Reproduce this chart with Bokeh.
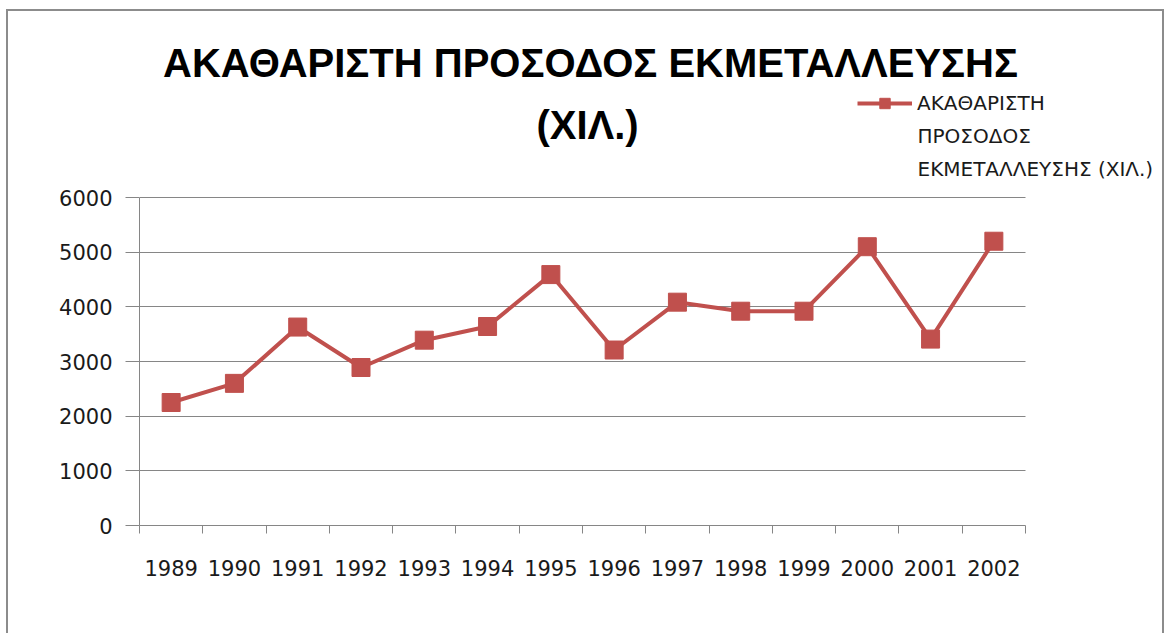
from bokeh.plotting import figure
from bokeh.models import (Range1d, FixedTicker, Label, Legend, LegendItem, ColumnDataSource)
from bokeh.embed import file_html
from bokeh.resources import INLINE

years = ["1989", "1990", "1991", "1992", "1993", "1994", "1995",
         "1996", "1997", "1998", "1999", "2000", "2001", "2002"]
revenue = [2250, 2600, 3630, 2890, 3390, 3640, 4590,
           3210, 4085, 3920, 3920, 5100, 3410, 5200]
title_lines = ["ΑΚΑΘΑΡΙΣΤΗ ΠΡΟΣΟΔΟΣ ΕΚΜΕΤΑΛΛΕΥΣΗΣ", "(ΧΙΛ.)"]
legend_lines = ["ΑΚΑΘΑΡΙΣΤΗ", "ΠΡΟΣΟΔΟΣ", "ΕΚΜΕΤΑΛΛΕΥΣΗΣ (ΧΙΛ.)"]
y_ticks = [0, 1000, 2000, 3000, 4000, 5000, 6000]
Y_MAX = 6000

RED = "#C0504D"
GRAY = "#868686"
FONT = "DejaVu Sans"

# layout geometry (canvas pixels)
W, H = 1158, 624
AX_LEFT, AX_RIGHT = 131, 1017      # chart area horizontally
AX_TOP, AX_BOTTOM = 186, 514       # chart area vertically

n = len(years)
px_per_x = (AX_RIGHT - AX_LEFT) / n
px_per_y = (AX_BOTTOM - AX_TOP) / Y_MAX
x_end = (W - AX_LEFT) / px_per_x
y_end = AX_BOTTOM / px_per_y

pos = [i + 0.5 for i in range(n)]
src = ColumnDataSource(dict(x=pos, y=revenue))

p = figure(width=W, height=H, output_backend="svg", toolbar_location=None,
           x_range=Range1d(0, x_end), y_range=Range1d(0, y_end),
           min_border_left=AX_LEFT, min_border_right=0,
           min_border_top=0, min_border_bottom=H - AX_BOTTOM,
           background_fill_color="white", border_fill_color="white")
p.styles = {"border-left": "2px solid #8c8c8c", "border-top": "2px solid #8c8c8c",
            "border-right": "2px solid #8c8c8c", "margin-top": "9px", "margin-left": "6px"}
p.outline_line_color = None

# axes
xa = p.xaxis[0]
xa.bounds = (0, n)
xa.ticker = FixedTicker(ticks=pos, minor_ticks=list(range(n + 1)))
xa.major_label_overrides = {pp: y for pp, y in zip(pos, years)}
xa.major_tick_out = 0
xa.major_tick_in = 0
xa.minor_tick_out = 8
xa.minor_tick_in = 0
xa.minor_tick_line_color = GRAY
xa.axis_line_color = GRAY
xa.major_label_text_font = FONT
xa.major_label_text_font_size = "21px"
xa.major_label_text_color = "#1a1a1a"
xa.major_label_standoff = 26

ya = p.yaxis[0]
ya.bounds = (0, Y_MAX)
ya.ticker = FixedTicker(ticks=y_ticks)
ya.major_tick_out = 14
ya.major_tick_in = 0
ya.minor_tick_out = 0
ya.minor_tick_in = 0
ya.major_tick_line_color = GRAY
ya.axis_line_color = GRAY
ya.major_label_text_font = FONT
ya.major_label_text_font_size = "21px"
ya.major_label_text_color = "#1a1a1a"
ya.major_label_standoff = 13

p.xgrid.grid_line_color = None
p.ygrid.grid_line_color = GRAY
p.ygrid.ticker = FixedTicker(ticks=y_ticks)
p.ygrid.cross_bounds = (0, n)

ln = p.line("x", "y", source=src, line_color=RED, line_width=4)
sc = p.scatter("x", "y", source=src, marker="square", size=18,
               fill_color=RED, line_color=RED)

# title (two lines)
p.add_layout(Label(x=451, y=463, x_units="screen", y_units="screen", text=title_lines[0],
                   text_align="center", text_baseline="middle",
                   text_font="Liberation Sans", text_font_style="bold",
                   text_font_size="40px", text_color="black"))
p.add_layout(Label(x=448, y=401, x_units="screen", y_units="screen", text=title_lines[1],
                   text_align="center", text_baseline="middle",
                   text_font="Liberation Sans", text_font_style="bold",
                   text_font_size="40px", text_color="black"))

# legend
legend = Legend(items=[LegendItem(label=legend_lines[0], renderers=[ln, sc])],
                location=(718, 409), glyph_width=55, glyph_height=26,
                label_height=26, label_standoff=5, padding=0, margin=0, spacing=0,
                border_line_color=None, background_fill_alpha=0,
                label_text_font=FONT, label_text_font_size="20px",
                label_text_color="#1a1a1a")
p.add_layout(legend, "center")
for i, t in enumerate(legend_lines[1:]):
    p.add_layout(Label(x=778, y=389.5 - 33 * i, x_units="screen", y_units="screen", text=t,
                       text_align="left", text_baseline="middle",
                       text_font=FONT, text_font_size="20px",
                       text_color="#1a1a1a"))

open("out.html", "w").write(file_html(p, INLINE))
